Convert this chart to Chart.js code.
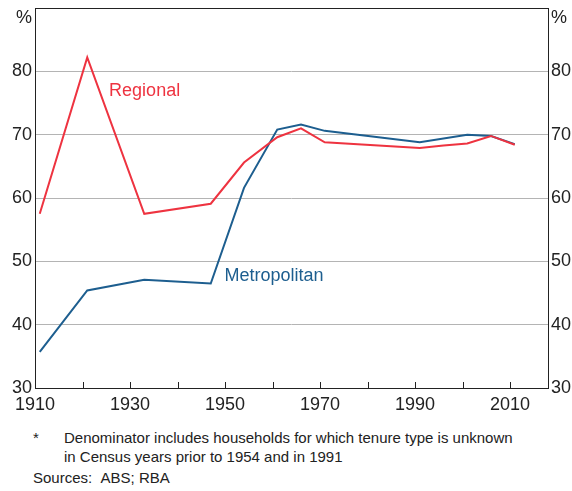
<!DOCTYPE html>
<html>
<head>
<meta charset="utf-8">
<script src="https://cdn.jsdelivr.net/npm/chart.js@4.4.0/dist/chart.umd.min.js"></script>
<style>
    body { margin:0; background:#fff; font-family:"Liberation Sans", Arial, sans-serif; }
    #wrap { position:absolute; left:0; top:0; width:572px; height:420px; }
    .note { position:absolute; font-size:15px; color:#222; line-height:19px; white-space:nowrap; }
</style>
</head>
<body>
<div id="wrap"><canvas id="ownChart" width="572" height="420"></canvas></div>
<div class="note" style="left:33px; top:428px;">*</div>
<div class="note" style="left:64px; top:428px;">Denominator includes households for which tenure type is unknown<br>in Census years prior to 1954 and in 1991</div>
<div class="note" style="left:33px; top:468px;">Sources:&nbsp;&nbsp;ABS; RBA</div>
<script>
// census years and shares (%)
const regionalYears = [1911, 1921, 1933, 1947, 1954, 1961, 1966, 1971, 1991, 1996, 2001, 2006, 2011];
const regionalVals  = [57.5, 82.2, 57.5, 59.1, 65.6, 69.6, 71.0, 68.8, 67.9, 68.3, 68.6, 69.8, 68.4];
const metroYears = [1911, 1921, 1933, 1947, 1954, 1961, 1966, 1971, 1991, 2001, 2006, 2011];
const metroVals  = [35.7, 45.4, 47.1, 46.5, 61.6, 70.8, 71.6, 70.6, 68.8, 70.0, 69.8, 68.5];
const xTickYears = [1910, 1920, 1930, 1940, 1950, 1960, 1970, 1980, 1990, 2000, 2010];
const xLabelYears = [1910, 1930, 1950, 1970, 1990, 2010];

const RED = '#ee3340';
const BLUE = '#1d5e8f';
const FONT = '"Liberation Sans", Arial, sans-serif';

// box, inward x ticks, % signs and series labels
const decor = {
    id: 'decor',
    afterDraw(chart) {
        const ctx = chart.ctx;
        const a = chart.chartArea;
        const x = chart.scales.x, y = chart.scales.y;
        ctx.save();
        ctx.strokeStyle = '#222';
        ctx.lineWidth = 1;
        ctx.strokeRect(Math.round(a.left) + 0.5, Math.round(a.top) + 0.5, Math.round(a.right - a.left), Math.round(a.bottom - a.top));
        x.ticks.forEach(t => {
            if (t.value <= 1910) return;
            const px = Math.round(x.getPixelForValue(t.value)) + 0.5;
            ctx.beginPath();
            ctx.moveTo(px, a.bottom);
            ctx.lineTo(px, a.bottom - 6);
            ctx.stroke();
        });
        ctx.fillStyle = '#222';
        ctx.font = '18px ' + FONT;
        ctx.textBaseline = 'middle';
        ctx.textAlign = 'right';
        ctx.fillText('%', a.left - 3, 18);
        ctx.textAlign = 'left';
        ctx.fillText('%', a.right + 3, 18);
        ctx.fillStyle = RED;
        ctx.fillText('Regional', x.getPixelForValue(1925.6), y.getPixelForValue(76.9));
        ctx.fillStyle = BLUE;
        ctx.fillText('Metropolitan', x.getPixelForValue(1949.9), y.getPixelForValue(47.7));
        ctx.restore();
    }
};

const yTicks = {
    font: { family: FONT, size: 18 },
    color: '#222',
    stepSize: 10,
    padding: 3,
    callback: v => (v === 90 ? '' : v)
};

new Chart(document.getElementById('ownChart'), {
    type: 'line',
    data: {
        datasets: [
            {
                label: 'Regional',
                data: regionalYears.map((yr, i) => ({ x: yr, y: regionalVals[i] })),
                borderColor: RED,
                borderWidth: 2,
                pointRadius: 0,
                tension: 0
            },
            {
                label: 'Metropolitan',
                data: metroYears.map((yr, i) => ({ x: yr, y: metroVals[i] })),
                borderColor: BLUE,
                borderWidth: 2,
                pointRadius: 0,
                tension: 0
            }
        ]
    },
    options: {
        responsive: false,
        animation: false,
        layout: { padding: { left: 0, right: 0, top: 8, bottom: 0 } },
        plugins: { legend: { display: false }, tooltip: { enabled: false } },
        scales: {
            x: {
                type: 'linear',
                min: 1910,
                max: 2018,
                grid: { display: false, drawTicks: false },
                border: { display: false },
                afterFit: s => { s.height = 32; s.paddingLeft = 0; s.paddingRight = 0; },
                afterBuildTicks: s => { s.ticks = xTickYears.map(v => ({ value: v })); },
                ticks: {
                    autoSkip: false,
                    maxRotation: 0,
                    padding: 6,
                    font: { family: FONT, size: 18 },
                    color: '#222',
                    callback: v => (xLabelYears.includes(v) ? v : '')
                }
            },
            y: {
                position: 'left',
                min: 30,
                max: 90,
                afterFit: s => { s.width = 35; s.paddingTop = 0; s.paddingBottom = 0; },
                grid: { color: '#b4b4b4', drawTicks: false, lineWidth: c => (c.tick.value === 30 || c.tick.value === 90 ? 0 : 1) },
                border: { display: false },
                ticks: yTicks
            },
            y2: {
                position: 'right',
                min: 30,
                max: 90,
                afterFit: s => { s.width = 24; s.paddingTop = 0; s.paddingBottom = 0; },
                grid: { display: false, drawTicks: false },
                border: { display: false },
                ticks: yTicks
            }
        }
    },
    plugins: [decor]
});
</script>
</body>
</html>
